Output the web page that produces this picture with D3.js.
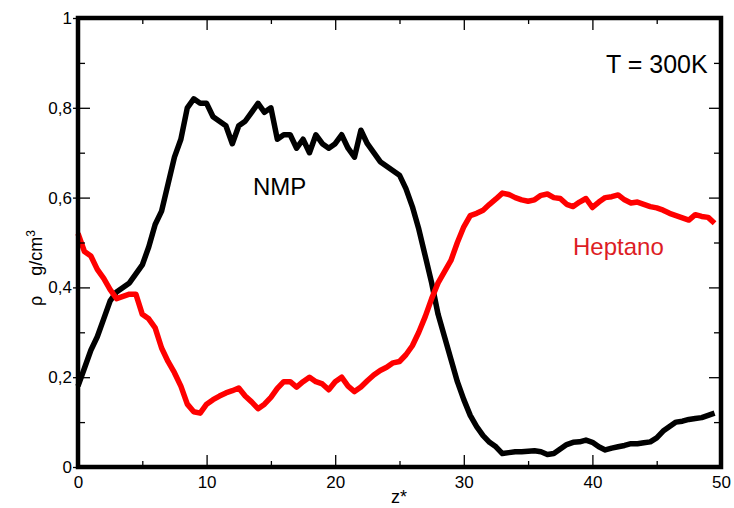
<!DOCTYPE html>
<html>
<head>
<meta charset="utf-8">
<script src="https://cdn.jsdelivr.net/npm/d3@7"></script>
<style>
  html, body { margin: 0; padding: 0; background: #fff; }
  svg { display: block; font-family: "Liberation Sans", Arial, Helvetica, sans-serif; }
</style>
</head>
<body>
<svg id="chart" width="734" height="508"></svg>
<script>
// ---- data (z* sampled every 0.5) ----
const zStep = 0.5;
const nmp = [
  0.18, 0.22, 0.26, 0.29, 0.33, 0.37, 0.39, 0.40, 0.41, 0.43,
  0.45, 0.49, 0.54, 0.57, 0.63, 0.69, 0.73, 0.80, 0.82, 0.81,
  0.81, 0.78, 0.77, 0.76, 0.72, 0.76, 0.77, 0.79, 0.81, 0.79,
  0.80, 0.73, 0.74, 0.74, 0.71, 0.73, 0.70, 0.74, 0.72, 0.71,
  0.72, 0.74, 0.71, 0.69, 0.75, 0.72, 0.70, 0.68, 0.67, 0.66,
  0.65, 0.62, 0.58, 0.53, 0.47, 0.41, 0.34, 0.29, 0.24, 0.19,
  0.15, 0.115, 0.09, 0.07, 0.055, 0.045, 0.03, 0.032, 0.034, 0.034,
  0.035, 0.036, 0.034, 0.028, 0.03, 0.04, 0.05, 0.055, 0.056, 0.06,
  0.055, 0.045, 0.038, 0.042, 0.045, 0.048, 0.052, 0.052, 0.054, 0.056,
  0.065, 0.08, 0.09, 0.10, 0.102, 0.106, 0.108, 0.11, 0.115, 0.12
];
const heptano = [
  0.52, 0.48, 0.47, 0.44, 0.42, 0.395, 0.375, 0.38, 0.385, 0.385,
  0.34, 0.33, 0.31, 0.265, 0.235, 0.21, 0.18, 0.14, 0.123, 0.12,
  0.14, 0.15, 0.158, 0.165, 0.17, 0.176, 0.158, 0.145, 0.13, 0.14,
  0.155, 0.175, 0.19, 0.19, 0.178, 0.19, 0.20, 0.19, 0.185, 0.172,
  0.19, 0.20, 0.18, 0.168, 0.178, 0.192, 0.205, 0.215, 0.222, 0.232,
  0.235, 0.25, 0.27, 0.30, 0.335, 0.375, 0.41, 0.435, 0.46, 0.50,
  0.535, 0.56, 0.565, 0.572, 0.585, 0.597, 0.61, 0.607, 0.60, 0.595,
  0.592, 0.595, 0.605, 0.608, 0.60, 0.598, 0.585, 0.58, 0.59, 0.598,
  0.578, 0.59, 0.60, 0.602, 0.606, 0.595, 0.588, 0.59, 0.585, 0.58,
  0.577, 0.572, 0.565, 0.56, 0.555, 0.55, 0.562, 0.558, 0.556, 0.543
];
const xMajorTicks = [0, 10, 20, 30, 40, 50];
const xMinorTicks = [5, 15, 25, 35, 45];
const yMajorTicks = [0, 0.2, 0.4, 0.6, 0.8, 1];
const yMajorLabels = ["0", "0,2", "0,4", "0,6", "0,8", "1"];
const yMinorTicks = [0.1, 0.3, 0.5, 0.7, 0.9];

// ---- layout ----
const svg = d3.select("#chart");
const L = 78, T = 18, W = 643, H = 449;
const x = d3.scaleLinear().domain([0, 50]).range([L, L + W]);
const y = d3.scaleLinear().domain([0, 1]).range([T + H, T]);

const toPts = arr => arr.map((v, i) => [i * zStep, v]);
const line = d3.line().x(d => x(d[0])).y(d => y(d[1]));

// curves
svg.append("path").attr("d", line(toPts(nmp)))
  .attr("fill", "none").attr("stroke", "#000").attr("stroke-width", 5.5)
  .attr("stroke-linejoin", "round");
svg.append("path").attr("d", line(toPts(heptano)))
  .attr("fill", "none").attr("stroke", "#f00").attr("stroke-width", 5.5)
  .attr("stroke-linejoin", "round");

// axes
function styleAxis(g) {
  g.select(".domain").remove();
  g.selectAll(".tick line").attr("stroke", "#000").attr("stroke-width", 1.3);
  g.selectAll(".tick text").attr("fill", "#000").attr("font-size", 17)
    .attr("font-family", "Liberation Sans, Arial, sans-serif");
}
const xMinor = d3.axisBottom(x).tickValues(xMinorTicks).tickSize(-6).tickFormat("");
const xMajor = d3.axisBottom(x).tickValues(xMajorTicks).tickSize(-12).tickPadding(9).tickFormat(d3.format("d"));
svg.append("g").attr("transform", `translate(0,${T + H})`).call(xMinor).call(styleAxis);
svg.append("g").attr("transform", `translate(0,${T + H})`).call(xMajor).call(styleAxis);

const xTopMinor = d3.axisTop(x).tickValues(xMinorTicks).tickSize(-6).tickFormat("");
const xTopMajor = d3.axisTop(x).tickValues(xMajorTicks).tickSize(-12).tickFormat("");
svg.append("g").attr("transform", `translate(0,${T})`).call(xTopMinor).call(styleAxis);
svg.append("g").attr("transform", `translate(0,${T})`).call(xTopMajor).call(styleAxis);

const yMinor = d3.axisLeft(y).tickValues(yMinorTicks).tickSize(-7).tickFormat("");
const yMajor = d3.axisLeft(y).tickValues(yMajorTicks).tickSize(-12).tickPadding(6)
  .tickFormat((d, i) => yMajorLabels[i]);
svg.append("g").attr("transform", `translate(${L},0)`).call(yMinor).call(styleAxis);
const gyMaj = svg.append("g").attr("transform", `translate(${L},0)`).call(yMajor).call(styleAxis);
gyMaj.selectAll(".tick line").attr("x1", -5);

const yRMinor = d3.axisRight(y).tickValues(yMinorTicks).tickSize(-7).tickFormat("");
const yRMajor = d3.axisRight(y).tickValues(yMajorTicks).tickSize(-12).tickFormat("");
svg.append("g").attr("transform", `translate(${L + W},0)`).call(yRMinor).call(styleAxis);
svg.append("g").attr("transform", `translate(${L + W},0)`).call(yRMajor).call(styleAxis);

// frame
svg.append("rect").attr("x", L).attr("y", T).attr("width", W).attr("height", H)
  .attr("fill", "none").attr("stroke", "#000").attr("stroke-width", 4.5);

// annotations
svg.append("text").attr("x", 606).attr("y", 73).attr("font-size", 25)
  .attr("fill", "#000").text("T = 300K");
svg.append("text").attr("x", 253).attr("y", 195).attr("font-size", 24)
  .attr("fill", "#000").text("NMP");
svg.append("text").attr("x", 573).attr("y", 255).attr("font-size", 24)
  .attr("fill", "#dd1c24").text("Heptano");

// axis titles
svg.append("text").attr("x", 399).attr("y", 503).attr("text-anchor", "middle")
  .attr("font-size", 18).attr("fill", "#000").text("z*");
const yt = svg.append("text").attr("transform", "translate(42,268) rotate(-90)")
  .attr("text-anchor", "middle").attr("font-size", 18).attr("fill", "#000")
  .attr("xml:space", "preserve").style("white-space", "pre");
yt.append("tspan").text("ρ    g/cm");
yt.append("tspan").attr("dy", -7).attr("font-size", 12).text("3");
</script>
</body>
</html>
